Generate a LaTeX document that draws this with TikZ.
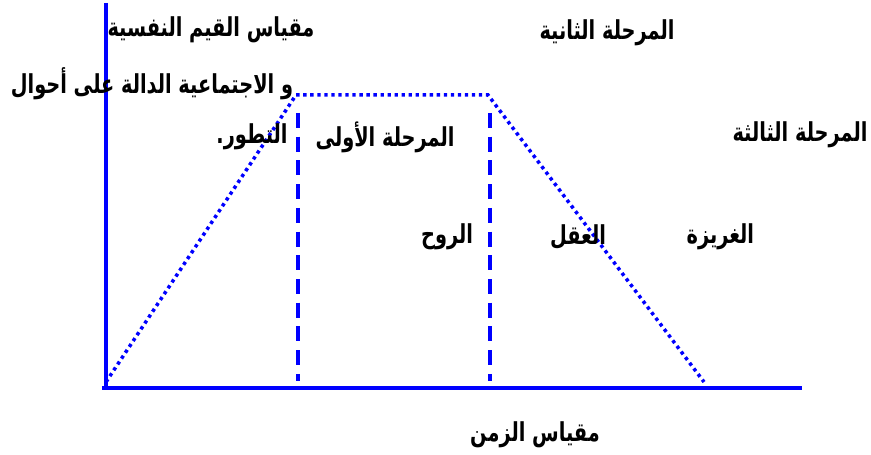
\documentclass[tikz,border=0pt]{standalone}
\usepackage{graphicx}
\usepackage{fontspec}
\newfontfamily\arabicfont[Script=Arabic]{DejaVu Sans}
\TeXXeTstate=1
\newcommand{\rtltext}[1]{\scalebox{1}[1.35]{\beginR #1\endR}}

\begin{document}
\begin{tikzpicture}[
    x=0.02cm, y=0.02cm,
    axis/.style={
        draw=blue,
        line width=1.8pt
    },
    curve/.style={
        draw=blue,
        line width=2pt,
        dash pattern=on 1.9pt off 2.1pt
    },
    border/.style={
        draw=blue,
        line width=2pt,
        dash pattern=on 8.5pt off 5pt
    },
    lbl/.style={
        font=\arabicfont\bfseries\fontsize{11}{13}\selectfont,
        inner sep=0pt
    }
]

    \useasboundingbox (0,0) rectangle (871,455);

    \coordinate (top) at (106,452);
    \coordinate (origin) at (106,67);
    \coordinate (left) at (102,67);
    \coordinate (right) at (802,67);

    \coordinate (start) at (106,73);
    \coordinate (riseend) at (296,360);
    \coordinate (fallstart) at (488,360);
    \coordinate (stop) at (704,73);

    \draw[axis] (top) -- (origin);
    \draw[axis] (left) -- (right);

    \draw[curve] (start) -- (riseend) -- (fallstart) -- (stop);

    \foreach \x/\name in {298/b1,490/b2}{
        \coordinate (\name top) at (\x,342);
        \coordinate (\name bot) at (\x,74);
        \draw[border] (\name top) -- (\name bot);
    }

    \node[lbl] (vscale1) at (211,425) {\rtltext{مقياس القيم النفسية}};
    \node[lbl] (vscale2) at (152,371) {\rtltext{و الاجتماعية الدالة على أحوال}};
    \node[lbl] (vscale3) at (252,318) {\rtltext{التطور.}};

    \node[lbl] (stage2) at (607,422) {\rtltext{المرحلة الثانية}};
    \node[lbl] (stage1) at (385,318) {\rtltext{المرحلة الأولى}};
    \node[lbl] (stage3) at (800,320) {\rtltext{المرحلة الثالثة}};

    \foreach \x/\name/\word in {
        447/spirit/الروح,578/mind/العقل,717/instinct/الغريزة
    }{
        \node[lbl] (\name) at (\x,218) {\rtltext{\word}};
    }

    \node[lbl] (timescale) at (535,20) {\rtltext{مقياس الزمن}};

\end{tikzpicture}
\end{document}
